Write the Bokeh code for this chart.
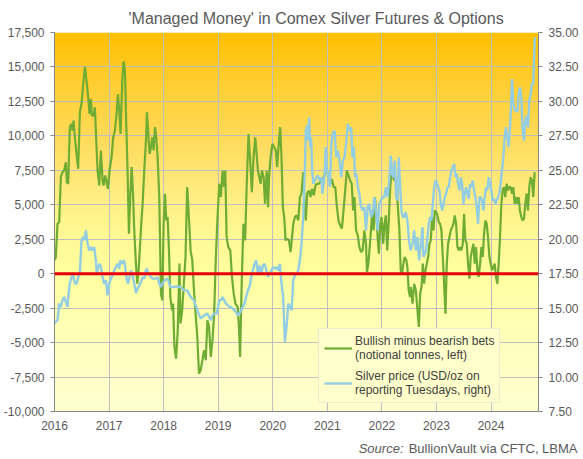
import numpy as np
from bokeh.plotting import figure
from bokeh.layouts import column
from bokeh.models import (Range1d, LinearAxis, Span, Legend, LegendItem,
                          FixedTicker, NumeralTickFormatter, Label)
from bokeh.embed import file_html
from bokeh.resources import INLINE

# ---------------- data ----------------
title_text = "'Managed Money' in Comex Silver Futures & Options"
source_italic = "Source:"
source_rest = "BullionVault via CFTC, LBMA"
net_label = "Bullish minus bearish bets\n(notional tonnes, left)"
price_label = "Silver price (USD/oz on\nreporting Tuesdays, right)"

year_ticks = [2016, 2017, 2018, 2019, 2020, 2021, 2022, 2023, 2024]
left_ticks = [-10000, -7500, -5000, -2500, 0, 2500, 5000, 7500, 10000, 12500, 15000, 17500]
right_ticks = [7.5, 10.0, 12.5, 15.0, 17.5, 20.0, 22.5, 25.0, 27.5, 30.0, 32.5, 35.0]

net_years = [
    2016.000, 2016.024, 2016.055, 2016.086, 2016.116, 2016.147, 2016.177, 2016.208, 2016.226, 2016.251,
    2016.281, 2016.312, 2016.330, 2016.349, 2016.373, 2016.410, 2016.434, 2016.465, 2016.495, 2016.526,
    2016.557, 2016.587, 2016.618, 2016.642, 2016.667, 2016.685, 2016.716, 2016.740, 2016.765, 2016.789,
    2016.820, 2016.850, 2016.881, 2016.899, 2016.930, 2016.954, 2016.979, 2017.009, 2017.046, 2017.076,
    2017.107, 2017.138, 2017.162, 2017.187, 2017.211, 2017.242, 2017.266, 2017.291, 2017.315, 2017.339,
    2017.364, 2017.388, 2017.413, 2017.437, 2017.462, 2017.492, 2017.517, 2017.541, 2017.566, 2017.590,
    2017.615, 2017.645, 2017.676, 2017.694, 2017.719, 2017.743, 2017.768, 2017.792, 2017.817, 2017.841,
    2017.865, 2017.890, 2017.920, 2017.951, 2017.976, 2018.000, 2018.024, 2018.049, 2018.073, 2018.098,
    2018.123, 2018.154, 2018.173, 2018.198, 2018.228, 2018.259, 2018.290, 2018.309, 2018.340, 2018.370,
    2018.401, 2018.432, 2018.463, 2018.494, 2018.525, 2018.556, 2018.586, 2018.617, 2018.648, 2018.679,
    2018.710, 2018.741, 2018.772, 2018.802, 2018.833, 2018.864, 2018.895, 2018.926, 2018.957, 2018.988,
    2019.019, 2019.049, 2019.080, 2019.111, 2019.130, 2019.154, 2019.185, 2019.222, 2019.253, 2019.284,
    2019.315, 2019.358, 2019.383, 2019.401, 2019.432, 2019.463, 2019.494, 2019.525, 2019.556, 2019.586,
    2019.617, 2019.648, 2019.679, 2019.704, 2019.728, 2019.753, 2019.778, 2019.802, 2019.833, 2019.858,
    2019.889, 2019.914, 2019.932, 2019.963, 2019.994, 2020.025, 2020.056, 2020.080, 2020.105, 2020.136,
    2020.160, 2020.185, 2020.210, 2020.235, 2020.265, 2020.296, 2020.327, 2020.376, 2020.406, 2020.436,
    2020.467, 2020.497, 2020.527, 2020.558, 2020.588, 2020.606, 2020.630, 2020.661, 2020.691, 2020.721,
    2020.752, 2020.782, 2020.812, 2020.842, 2020.873, 2020.903, 2020.933, 2020.964, 2020.994, 2021.024,
    2021.055, 2021.085, 2021.115, 2021.145, 2021.176, 2021.206, 2021.236, 2021.267, 2021.297, 2021.327,
    2021.358, 2021.388, 2021.418, 2021.448, 2021.473, 2021.497, 2021.527, 2021.558, 2021.588, 2021.618,
    2021.648, 2021.679, 2021.709, 2021.727, 2021.752, 2021.776, 2021.800, 2021.824, 2021.848, 2021.873,
    2021.897, 2021.921, 2021.945, 2021.970, 2021.994, 2022.024, 2022.048, 2022.073, 2022.097, 2022.121,
    2022.152, 2022.176, 2022.200, 2022.224, 2022.248, 2022.273, 2022.297, 2022.321, 2022.345, 2022.370,
    2022.394, 2022.418, 2022.448, 2022.467, 2022.491, 2022.515, 2022.530, 2022.561, 2022.591, 2022.622,
    2022.652, 2022.677, 2022.701, 2022.726, 2022.750, 2022.774, 2022.799, 2022.823, 2022.848, 2022.872,
    2022.896, 2022.921, 2022.945, 2022.970, 2022.994, 2023.018, 2023.043, 2023.067, 2023.091, 2023.116,
    2023.140, 2023.165, 2023.189, 2023.213, 2023.238, 2023.262, 2023.287, 2023.311, 2023.335, 2023.360,
    2023.384, 2023.409, 2023.433, 2023.457, 2023.482, 2023.506, 2023.530, 2023.555, 2023.579, 2023.604,
    2023.628, 2023.652, 2023.677, 2023.701, 2023.726, 2023.750, 2023.774, 2023.799, 2023.823, 2023.848,
    2023.872, 2023.896, 2023.921, 2023.945, 2023.970, 2023.994, 2024.018, 2024.043, 2024.067, 2024.091,
    2024.116, 2024.140, 2024.165, 2024.189, 2024.213, 2024.238, 2024.262, 2024.287, 2024.311, 2024.335,
    2024.360, 2024.384, 2024.409, 2024.433, 2024.457, 2024.482, 2024.506, 2024.530, 2024.555, 2024.579,
    2024.604, 2024.628, 2024.652, 2024.677, 2024.701, 2024.726, 2024.750, 2024.774, 2024.799,
]
net_tonnes = [
    970, 1210, 3620, 3740, 7000, 7370, 7490, 8090, 6640, 6520,
    10630, 10870, 10390, 11110, 9900, 8450, 7610, 11710, 12320, 13770,
    15020, 14010, 12800, 11590, 12680, 11470, 11470, 12080, 9660, 7490,
    6400, 8940, 6760, 6400, 7120, 6640, 6160, 7490, 8450, 9900,
    10390, 11590, 13040, 11830, 10140, 14010, 15410, 14730, 10870, 7490,
    2900, 5560, 7730, 6040, 3140, 730, -730, 240, 1930, 3620,
    5070, 7490, 9660, 11710, 10140, 8690, 9180, 9900, 8940, 10630,
    9900, 8450, 5560, -1450, -1930, 3620, 5800, 3860, 4110, 1690,
    -1690, -2660, -2170, -5310, -6160, -4110, 730, -3620, -2660, -730,
    1210, 6280, 4110, 1690, 970, -1210, -2900, -4590, -7250, -7000,
    -6280, -5560, -6280, -3380, -3860, -6040, -4830, -2900, 1210, 4110,
    6520, 5560, 7490, 6280, 7490, 2660, 1930, 1690, -240, -1450,
    -2170, -2420, -4110, -6040, -480, 3620, 2420, 6760, 10140, 8210,
    5920, 8450, 9900, 8690, 7490, 7000, 6520, 7490, 7000, 5070,
    7490, 4830, 7000, 8570, 9420, 9180, 8940, 7730, 9180, 10630,
    8450, 4830, 4110, 2420, 2540, 2420, 1570, 3620, 4110, 4230,
    3860, 5560, 5800, 7370, 4590, 3860, 5800, 6040, 5560, 6160,
    5680, 6400, 6520, 6520, 6640, 6880, 7000, 7370, 7490, 7000,
    6520, 6880, 6280, 6280, 4830, 3860, 3500, 3260, 4590, 6040,
    7490, 7120, 6760, 6520, 4590, 5560, 3140, 2780, 1930, 1570,
    1690, 3140, 2170, 120, 730, 1930, 3140, 4590, 3140, 5560,
    4350, 2660, 1450, 3620, 4110, 2170, 3620, 4230, 1690, 3380,
    6280, 7250, 7120, 6760, 7000, 6040, 4590, 3140, 240, 0,
    730, 1210, 970, 480, -1210, -1690, -970, -2170, -730, -1210,
    -2660, -3860, -1450, -970, 730, -730, 240, 730, 1210, 2170,
    2420, 4110, 3140, 4590, 4470, 4230, 3740, 3620, 3140, 1210,
    -730, -2900, 730, 2170, 2660, 3140, 3380, 3620, 4230, 3620,
    1930, 1690, 1930, 1690, 2170, 4350, 2420, 2170, 730, -360,
    1210, 1690, 2170, 730, 1930, 240, -240, 730, 1930, 1210,
    2900, 3860, 3620, 2660, 1210, 730, 240, 480, 730, -240,
    -730, 730, 2660, 5070, 6040, 6280, 5560, 6520, 6040, 6280,
    6280, 5800, 6280, 5070, 5560, 5070, 5560, 4590, 4110, 3860,
    3990, 5070, 5800, 4590, 6280, 7000, 6760, 5560, 7370,
]

price_years = [
    2016.000, 2016.024, 2016.055, 2016.086, 2016.116, 2016.147, 2016.177, 2016.208, 2016.239, 2016.257,
    2016.281, 2016.312, 2016.343, 2016.373, 2016.404, 2016.434, 2016.465, 2016.495, 2016.526, 2016.544,
    2016.575, 2016.606, 2016.636, 2016.667, 2016.697, 2016.728, 2016.758, 2016.777, 2016.801, 2016.826,
    2016.850, 2016.881, 2016.911, 2016.942, 2016.972, 2017.003, 2017.034, 2017.064, 2017.095, 2017.125,
    2017.156, 2017.187, 2017.205, 2017.229, 2017.254, 2017.278, 2017.303, 2017.327, 2017.352, 2017.376,
    2017.401, 2017.431, 2017.462, 2017.492, 2017.523, 2017.554, 2017.584, 2017.615, 2017.645, 2017.670,
    2017.694, 2017.719, 2017.743, 2017.768, 2017.798, 2017.829, 2017.859, 2017.890, 2017.920, 2017.951,
    2017.976, 2018.000, 2018.024, 2018.049, 2018.073, 2018.104, 2018.123, 2018.185, 2018.247, 2018.309,
    2018.370, 2018.432, 2018.463, 2018.494, 2018.556, 2018.617, 2018.679, 2018.741, 2018.802, 2018.833,
    2018.864, 2018.895, 2018.926, 2018.975, 2019.019, 2019.049, 2019.080, 2019.111, 2019.142, 2019.173,
    2019.204, 2019.235, 2019.265, 2019.296, 2019.327, 2019.358, 2019.389, 2019.420, 2019.451, 2019.481,
    2019.512, 2019.543, 2019.574, 2019.605, 2019.636, 2019.667, 2019.698, 2019.728, 2019.759, 2019.790,
    2019.821, 2019.852, 2019.883, 2019.914, 2019.944, 2019.975, 2020.006, 2020.037, 2020.068, 2020.099,
    2020.130, 2020.160, 2020.191, 2020.222, 2020.253, 2020.284, 2020.315, 2020.346, 2020.376, 2020.406,
    2020.436, 2020.467, 2020.497, 2020.527, 2020.558, 2020.588, 2020.606, 2020.630, 2020.648, 2020.667,
    2020.685, 2020.703, 2020.721, 2020.745, 2020.770, 2020.800, 2020.830, 2020.861, 2020.891, 2020.909,
    2020.933, 2020.952, 2020.970, 2020.994, 2021.024, 2021.048, 2021.073, 2021.097, 2021.133, 2021.164,
    2021.194, 2021.224, 2021.255, 2021.285, 2021.315, 2021.345, 2021.376, 2021.406, 2021.436, 2021.461,
    2021.485, 2021.509, 2021.533, 2021.558, 2021.588, 2021.618, 2021.648, 2021.679, 2021.709, 2021.739,
    2021.770, 2021.800, 2021.830, 2021.861, 2021.891, 2021.921, 2021.952, 2021.982, 2022.012, 2022.042,
    2022.073, 2022.103, 2022.133, 2022.164, 2022.188, 2022.212, 2022.236, 2022.261, 2022.285, 2022.309,
    2022.333, 2022.358, 2022.382, 2022.406, 2022.436, 2022.467, 2022.497, 2022.527, 2022.561, 2022.591,
    2022.622, 2022.652, 2022.683, 2022.713, 2022.744, 2022.762, 2022.787, 2022.811, 2022.835, 2022.860,
    2022.884, 2022.909, 2022.933, 2022.957, 2022.982, 2023.006, 2023.030, 2023.055, 2023.079, 2023.104,
    2023.128, 2023.152, 2023.177, 2023.201, 2023.226, 2023.250, 2023.274, 2023.299, 2023.323, 2023.348,
    2023.372, 2023.396, 2023.421, 2023.445, 2023.470, 2023.494, 2023.518, 2023.543, 2023.567, 2023.591,
    2023.616, 2023.640, 2023.665, 2023.689, 2023.713, 2023.738, 2023.762, 2023.787, 2023.811, 2023.835,
    2023.860, 2023.884, 2023.909, 2023.933, 2023.957, 2023.982, 2024.006, 2024.030, 2024.055, 2024.079,
    2024.104, 2024.128, 2024.152, 2024.177, 2024.201, 2024.226, 2024.250, 2024.274, 2024.299, 2024.323,
    2024.348, 2024.372, 2024.384, 2024.409, 2024.433, 2024.457, 2024.482, 2024.506, 2024.530, 2024.555,
    2024.579, 2024.604, 2024.628, 2024.652, 2024.677, 2024.701, 2024.726, 2024.750, 2024.774, 2024.799,
    2024.811,
]
price_usd = [
    13.88, 14.00, 14.12, 15.33, 15.09, 15.57, 15.81, 15.45, 15.09, 16.05,
    16.78, 17.26, 17.38, 16.78, 16.78, 17.26, 17.50, 19.92, 20.16, 19.92,
    20.64, 19.67, 19.19, 19.43, 19.19, 19.43, 18.47, 17.50, 17.98, 18.22,
    17.98, 17.26, 16.78, 17.02, 15.93, 16.78, 17.14, 17.38, 17.74, 17.98,
    18.22, 17.86, 18.47, 18.22, 18.35, 18.47, 17.74, 17.02, 16.78, 17.26,
    17.74, 17.38, 16.78, 16.10, 16.40, 16.65, 16.90, 17.26, 17.14, 17.74,
    17.86, 17.50, 17.38, 17.26, 17.14, 17.14, 17.14, 17.26, 16.78, 16.53,
    16.78, 16.90, 17.02, 17.14, 17.14, 16.78, 16.53, 16.53, 16.58, 16.53,
    16.29, 16.29, 16.05, 15.81, 15.57, 14.84, 14.24, 14.48, 14.60, 14.36,
    14.12, 14.48, 14.60, 14.60, 15.57, 15.57, 15.81, 15.57, 15.33, 15.21,
    15.09, 15.09, 14.96, 14.84, 14.72, 14.48, 14.60, 14.84, 15.09, 15.33,
    15.81, 16.29, 16.53, 17.26, 17.74, 18.22, 18.47, 17.50, 18.10, 17.50,
    18.10, 18.22, 17.74, 17.26, 17.50, 17.74, 17.98, 17.86, 17.98, 17.74,
    18.22, 16.78, 15.81, 12.55, 13.64, 15.33, 15.09, 14.84, 17.02, 17.38,
    17.50, 17.74, 18.47, 19.67, 21.61, 24.99, 27.88, 28.25, 27.16, 28.85,
    26.68, 27.40, 24.99, 24.02, 24.26, 24.50, 24.62, 24.26, 24.50, 23.30,
    24.02, 24.75, 26.68, 24.99, 24.50, 23.78, 26.92, 27.64, 27.88, 25.95,
    26.44, 25.71, 24.50, 25.71, 25.95, 26.92, 28.37, 27.88, 28.13, 25.95,
    26.68, 24.50, 24.75, 23.78, 23.30, 22.33, 22.09, 22.33, 20.64, 22.33,
    22.57, 21.61, 21.85, 23.05, 22.09, 20.64, 22.57, 22.81, 23.05, 23.05,
    23.78, 23.05, 24.26, 26.07, 24.75, 24.50, 25.71, 23.05, 22.81, 25.95,
    24.02, 22.09, 21.61, 21.61, 21.97, 21.36, 19.92, 19.19, 19.67, 20.64,
    19.19, 20.16, 18.47, 19.67, 20.88, 18.71, 18.95, 19.19, 20.16, 21.12,
    21.61, 21.36, 22.57, 23.78, 24.26, 24.14, 23.78, 23.54, 22.57, 22.09,
    22.57, 23.05, 23.30, 23.78, 23.78, 24.50, 24.99, 25.23, 25.47, 24.50,
    24.75, 24.02, 23.54, 24.50, 24.02, 22.57, 23.30, 23.78, 23.30, 22.93,
    24.02, 23.78, 24.26, 23.54, 23.05, 22.33, 21.12, 23.05, 23.05, 22.81,
    22.09, 23.05, 23.78, 23.54, 24.50, 24.02, 23.54, 22.81, 22.93, 22.57,
    22.81, 23.05, 23.30, 24.02, 24.99, 25.95, 27.40, 28.13, 27.40, 26.68,
    28.13, 30.30, 31.63, 29.82, 29.33, 29.45, 29.21, 30.54, 31.02, 30.30,
    27.88, 27.16, 28.61, 28.97, 28.13, 30.06, 30.54, 31.27, 31.27, 34.41,
    34.65,
]

# ---------------- figure ----------------
FONT = "Liberation Sans"
TXT = "#595959"
GRID = "#BFBFBF"
AXIS = "#868686"

x0, x1 = 2016.0, 2024.87
yl0, yl1 = -10000, 17500
yr0, yr1 = 7.5, 35.0

W, H = 582, 436
p = figure(width=W, height=H, output_backend="svg", toolbar_location=None,
           x_range=Range1d(x0, x1), y_range=Range1d(yl0, yl1),
           min_border_left=53, min_border_right=W - 538, min_border_top=32,
           min_border_bottom=H - 411)
p.background_fill_color = "white"
p.border_fill_color = "white"
p.outline_line_color = None

# title
p.title.text = title_text
p.title.text_font = FONT
p.title.text_font_size = "16px"
p.title.text_font_style = "normal"
p.title.text_color = TXT
p.title.align = "left"
p.title.offset = 74
p.title.standoff = 11

# background gradient inside plot area
stops_t = [0.0, 0.10, 0.27, 0.36, 0.45, 0.55, 0.64, 0.82, 1.0]
stops_r = [255, 255, 255, 255, 255, 255, 255, 255, 255]
stops_g = [192, 203, 219, 229, 240, 250, 255, 255, 255]
stops_b = [0, 40, 88, 114, 136, 150, 160, 188, 208]
n = 300
t = np.linspace(1.0, 0.0, n)  # row 0 is the bottom
r = np.interp(t, stops_t, stops_r).astype(np.uint32)
g = np.interp(t, stops_t, stops_g).astype(np.uint32)
b = np.interp(t, stops_t, stops_b).astype(np.uint32)
img = (255 << 24) | (b << 16) | (g << 8) | r
img = img.reshape(n, 1).astype(np.uint32)
p.image_rgba(image=[img], x=x0, y=yl0, dw=x1 - x0, dh=yl1 - yl0, level="image")

# secondary range
p.extra_y_ranges = {"price": Range1d(yr0, yr1)}

# axes styling
xa = p.xaxis[0]
xa.ticker = FixedTicker(ticks=year_ticks)
xa.formatter = NumeralTickFormatter(format="0")
ya = p.yaxis[0]
ya.ticker = FixedTicker(ticks=left_ticks)
ya.formatter = NumeralTickFormatter(format="0,0")
ra = LinearAxis(y_range_name="price", ticker=FixedTicker(ticks=right_ticks),
                formatter=NumeralTickFormatter(format="0.00"))
p.add_layout(ra, "right")

for ax in (xa, ya, ra):
    ax.axis_line_color = AXIS
    ax.major_tick_line_color = AXIS
    ax.minor_tick_line_color = None
    ax.major_tick_in = 0
    ax.major_tick_out = 4
    ax.major_label_text_font = FONT
    ax.major_label_text_font_size = "12px"
    ax.major_label_text_color = TXT
xa.major_tick_out = 0
xa.major_label_standoff = 9
ya.major_label_standoff = 6
ra.major_label_standoff = 6

p.xgrid.ticker = FixedTicker(ticks=year_ticks)
p.ygrid.ticker = FixedTicker(ticks=left_ticks)
p.grid.grid_line_color = GRID
p.grid.grid_line_width = 1
p.grid.level = "image"

# series
g_net = p.line(net_years, net_tonnes, line_color="#6EAC34", line_width=2.2)
g_price = p.line(price_years, price_usd, y_range_name="price",
                 line_color="#93CDE3", line_width=2.4)

# zero line
p.add_layout(Span(location=0, dimension="width", line_color="#E8000B", line_width=3))

# legend
legend = Legend(items=[LegendItem(label=net_label, renderers=[g_net]),
                       LegendItem(label=price_label, renderers=[g_price])],
                location=(264, 8))
legend.label_text_font = FONT
legend.label_text_font_size = "12px"
legend.label_text_color = "#404040"
legend.label_standoff = 3
legend.glyph_width = 28
legend.padding = 5
legend.spacing = 7
legend.margin = 0
legend.background_fill_color = "#FFFFCC"
legend.background_fill_alpha = 1.0
legend.border_line_color = "#D9D9D9"
p.add_layout(legend, "center")

# ---------------- source note strip below the chart ----------------
SH = 22
note = figure(width=W, height=SH, output_backend="svg", toolbar_location=None,
              x_axis_location=None, y_axis_location=None,
              x_range=Range1d(0, W), y_range=Range1d(0, SH),
              min_border=0, min_border_left=0, min_border_right=0,
              min_border_top=0, min_border_bottom=0)
note.frame_align = False
note.grid.visible = False
note.outline_line_color = None
note.background_fill_color = "white"
note.border_fill_color = "white"
note.add_layout(Label(x=577, y=SH - 12, x_units="screen", y_units="screen", text=source_rest,
                      text_font=FONT, text_font_size="13px", text_color=TXT,
                      text_align="right", text_baseline="middle"))
note.add_layout(Label(x=403, y=SH - 12, x_units="screen", y_units="screen", text=source_italic,
                      text_font=FONT, text_font_size="13px", text_color=TXT,
                      text_font_style="italic",
                      text_align="right", text_baseline="middle"))

layout = column(p, note, spacing=0)
open("out.html", "w").write(file_html(layout, INLINE))
